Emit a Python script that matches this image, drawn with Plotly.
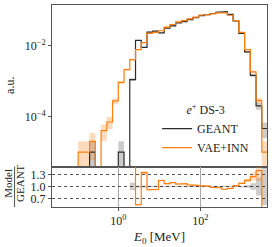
import numpy as np
import plotly.graph_objects as go

# ---- data -------------------------------------------------------------
LOG_EDGE_MIN, LOG_EDGE_MAX, N_BINS = -1.68, 3.64, 38
edges = np.logspace(LOG_EDGE_MIN, LOG_EDGE_MAX, N_BINS + 1)

geant = np.array([
    0, 0, 0, 0, 0, 0, 0, 1e-5, 0, 0, 0, 0, 1e-5, 0, 1.1e-3, 1.4e-2, 8.9e-3,
    0.0239, 0.0253, 0.0226, 0.0308, 0.0355, 0.0434, 0.0467, 0.0538, 0.0612,
    0.0696, 0.0733, 0.0796, 0.0856, 0.0892, 0.0747, 0.049, 0.0218, 0.0066,
    0.00144, 2.0e-4, 4.6e-5])

vae_inn = np.array([
    0, 0, 0, 0, 0, 1e-5, 1e-5, 2e-5, 0, 4e-5, 7e-5, 2.75e-4, 9.1e-4, 2.1e-3,
    4.0e-3, 7.6e-3, 1.2e-2, 2.2e-2, 2.35e-2, 2.6e-2, 3.3e-2, 3.9e-2, 4.6e-2,
    5.0e-2, 5.6e-2, 6.3e-2, 7.1e-2, 7.4e-2, 7.8e-2, 8.3e-2, 8.3e-2, 7.1e-2,
    5.0e-2, 2.35e-2, 7.6e-3, 1.8e-3, 2.8e-4, 1e-5])

NORM_PER_EVENT = 1e-5  # normalised weight of a single event

C_GEANT = "#2b2b2b"
C_MODEL = "#ff7f0e"
BAND_GEANT = "rgba(0,0,0,0.2)"
BAND_MODEL = "rgba(255,127,14,0.28)"
TINY = 1e-9


def rel_err(v):
    out = np.full(v.shape, np.nan)
    m = v > 0
    out[m] = 1.0 / np.sqrt(v[m] / NORM_PER_EVENT)
    return out


def step_xy(vals):
    xs, ys, prev = [], [], False
    for i, v in enumerate(vals):
        if not np.isfinite(v):
            if prev:
                xs.append(None); ys.append(None)
            prev = False
            continue
        xs += [edges[i], edges[i + 1]]
        ys += [v, v]
        prev = True
    return xs, ys


def band_xy(lo, hi):
    xs, ys = [], []
    segs, cur = [], []
    for i in range(len(lo)):
        if np.isfinite(lo[i]) and np.isfinite(hi[i]):
            cur.append(i)
        elif cur:
            segs.append(cur); cur = []
    if cur:
        segs.append(cur)
    for seg in segs:
        px, py = [], []
        for i in seg:
            px += [edges[i], edges[i + 1]]; py += [hi[i], hi[i]]
        for i in reversed(seg):
            px += [edges[i + 1], edges[i]]; py += [lo[i], lo[i]]
        px.append(px[0]); py.append(py[0])
        xs += px + [None]; ys += py + [None]
    return xs, ys


rg, rm = rel_err(geant), rel_err(vae_inn)

fig = go.Figure()

# main-panel uncertainty bands
for vals, rel, col in [(geant, rg, BAND_GEANT), (vae_inn, rm, BAND_MODEL)]:
    lo = np.where(vals > 0, np.maximum(vals * (1 - rel), TINY), np.nan)
    hi = np.where(vals > 0, vals * (1 + rel), np.nan)
    bx, by = band_xy(lo, hi)
    fig.add_trace(go.Scatter(x=bx, y=by, fill="toself", fillcolor=col,
                             line=dict(width=0), mode="lines",
                             hoverinfo="skip", showlegend=False,
                             xaxis="x", yaxis="y"))

# main-panel histograms
for vals, col, name in [(geant, C_GEANT, "GEANT"), (vae_inn, C_MODEL, "VAE+INN")]:
    sx, sy = step_xy(np.where(vals > 0, vals, TINY))
    fig.add_trace(go.Scatter(x=sx, y=sy, mode="lines", name=name,
                             line=dict(color=col, width=1.2),
                             xaxis="x", yaxis="y"))

# ratio panel (bands only where the reference has more than one event)
with np.errstate(divide="ignore", invalid="ignore"):
    ratio = np.where(geant > 0, vae_inn / np.where(geant > 0, geant, 1), np.nan)
multi = geant > 1.5 * NORM_PER_EVENT

g_lo = np.where(multi, 1 - rg, np.nan)
g_hi = np.where(multi, 1 + rg, np.nan)
bx, by = band_xy(g_lo, g_hi)
fig.add_trace(go.Scatter(x=bx, y=by, fill="toself", fillcolor=BAND_GEANT,
                         line=dict(width=0), mode="lines", hoverinfo="skip",
                         showlegend=False, xaxis="x2", yaxis="y2"))
m_ok = multi & (vae_inn > 0)
m_lo = np.where(m_ok, ratio * (1 - rm), np.nan)
m_hi = np.where(m_ok, ratio * (1 + rm), np.nan)
bx, by = band_xy(m_lo, m_hi)
fig.add_trace(go.Scatter(x=bx, y=by, fill="toself", fillcolor=BAND_MODEL,
                         line=dict(width=0), mode="lines", hoverinfo="skip",
                         showlegend=False, xaxis="x2", yaxis="y2"))
rx, ry = step_xy(ratio)
fig.add_trace(go.Scatter(x=rx, y=ry, mode="lines", showlegend=False,
                         line=dict(color=C_MODEL, width=1.2),
                         xaxis="x2", yaxis="y2"))

# ---- layout -----------------------------------------------------------
X_RANGE = [-1.617, 3.627]
FONT = "Liberation Serif"
AX = "#555555"

fig.add_hline(y=1.0, line=dict(color="#444444", width=1), xref="x2", yref="y2")

fig.update_layout(
    width=274, height=247,
    margin=dict(l=52, r=7, t=5, b=40),
    plot_bgcolor="white", paper_bgcolor="white",
    font=dict(family=FONT, size=12, color="#222222"),
    xaxis=dict(type="log", range=X_RANGE, domain=[0, 1], anchor="y",
               showticklabels=False, ticks="", showgrid=False, zeroline=False,
               showline=True, mirror=True, linecolor=AX, linewidth=1),
    yaxis=dict(type="log", range=[-5.41, -0.86], domain=[0.2, 1], anchor="x",
               tickvals=[1e-4, 1e-2],
               ticktext=["10<sup>\u22124</sup>", "10<sup>\u22122</sup>"],
               ticks="outside", ticklen=3, tickcolor=AX, showgrid=False,
               zeroline=False, showline=True, mirror=True, linecolor=AX,
               linewidth=1, tickfont=dict(size=12)),
    xaxis2=dict(type="log", range=X_RANGE, domain=[0, 1], anchor="y2",
                matches="x", tickvals=[1, 100],
                ticktext=["10<sup>0</sup>", "10<sup>2</sup>"],
                ticks="outside", ticklen=3, tickcolor=AX,
                showgrid=True, gridcolor="#aaaaaa", gridwidth=0.8,
                zeroline=False, showline=True, mirror=True, linecolor=AX,
                linewidth=1,
                title=dict(text="<i>E</i><sub>0</sub> [MeV]", standoff=4,
                           font=dict(size=13))),
    yaxis2=dict(range=[0.485, 1.5], domain=[0, 0.2], anchor="x2",
                tickvals=[0.7, 1.0, 1.3], ticktext=["0.7", "1.0", "1.3"],
                ticks="outside", ticklen=3, tickcolor=AX,
                showgrid=True, gridcolor="#555555", griddash="dot",
                gridwidth=0.8, zeroline=False, showline=True, mirror=True,
                linecolor=AX, linewidth=1),
    legend=dict(x=0.94, xanchor="right", y=0.22, yanchor="bottom",
                bgcolor="rgba(255,255,255,0)", borderwidth=0,
                font=dict(size=12), itemwidth=30,
                title=dict(text="<i>e</i><sup>+</sup> DS-3", side="top center",
                           font=dict(size=12)),
                tracegroupgap=0),
    annotations=[
        dict(text="a.u.", xref="paper", yref="paper", x=-0.195, y=0.6,
             xanchor="center", yanchor="middle",
             textangle=-90, showarrow=False, font=dict(size=12)),
        dict(text="Model", xref="paper", yref="paper", x=-0.205, y=0.12,
             xanchor="center", yanchor="middle",
             textangle=-90, showarrow=False, font=dict(size=11)),
        dict(text="GEANT", xref="paper", yref="paper", x=-0.148, y=0.12,
             xanchor="center", yanchor="middle",
             textangle=-90, showarrow=False, font=dict(size=11)),
    ],
    shapes=[dict(type="line", xref="paper", yref="paper", x0=-0.174,
                 x1=-0.174, y0=0.0, y1=0.2,
                 line=dict(color="#222222", width=0.8))],
)

fig.write_html("out.html",
               config={"displayModeBar": False},
               post_script="document.body.style.margin='0';"
                           "document.body.style.padding='0';")
